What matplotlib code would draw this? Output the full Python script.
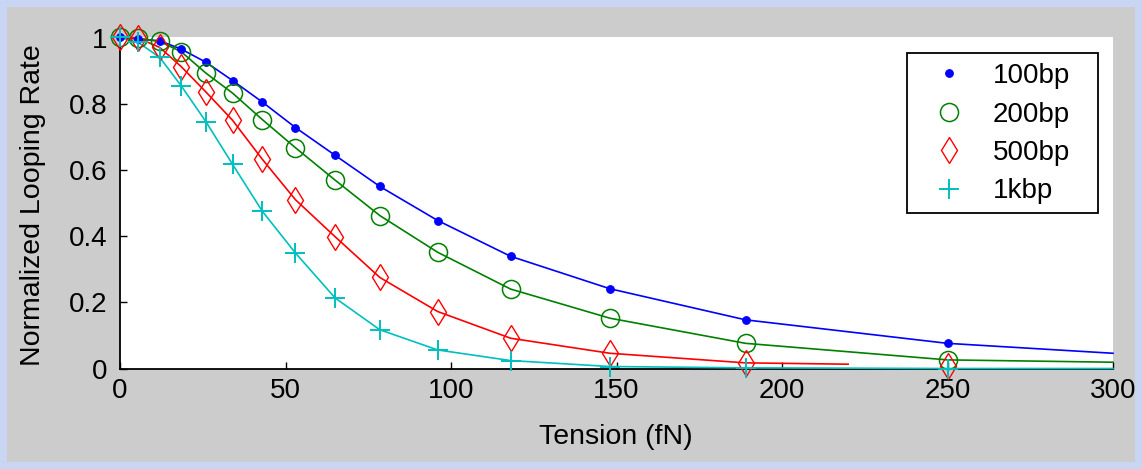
import matplotlib
matplotlib.use("Agg")
import matplotlib.pyplot as plt
from matplotlib.patches import Rectangle
from matplotlib.lines import Line2D

plt.rcParams['font.family'] = ['Liberation Sans', 'DejaVu Sans']

# ---- data ----
tension = [0, 5.5, 12, 18.5, 26, 34, 43, 53, 65, 78.5, 96, 118, 148, 189, 250]

rate_100bp = [1.0, 0.995, 0.99, 0.965, 0.925, 0.87, 0.805, 0.728, 0.644, 0.55,
              0.447, 0.339, 0.241, 0.147, 0.076]
rate_200bp = [1.0, 0.998, 0.988, 0.957, 0.892, 0.832, 0.752, 0.667, 0.569, 0.462,
              0.351, 0.24, 0.152, 0.076, 0.026]
rate_500bp = [1.0, 0.998, 0.97, 0.912, 0.835, 0.75, 0.632, 0.51, 0.398, 0.275,
              0.172, 0.0915, 0.046, 0.017, 0.008]
rate_1kbp = [1.0, 0.985, 0.94, 0.854, 0.745, 0.617, 0.475, 0.349, 0.213, 0.117,
             0.056, 0.024, 0.006, 0.002, 0.0]

# fitted curves: drawn through the points up to an end point
fit_end_x = {'100bp': 300, '200bp': 300, '500bp': 220, '1kbp': 300}
fit_end_y = {'100bp': 0.046, '200bp': 0.019, '500bp': 0.013, '1kbp': 0.0}

labels = ['100bp', '200bp', '500bp', '1kbp']
series = [rate_100bp, rate_200bp, rate_500bp, rate_1kbp]
colors = ['#0000ff', '#008000', '#ff0000', '#00bfbf']

xticks = [0, 50, 100, 150, 200, 250, 300]
yticks = [0, 0.2, 0.4, 0.6, 0.8, 1.0]
yticklabels = ['0', '0.2', '0.4', '0.6', '0.8', '1']

W, H = 1142, 469
fig = plt.figure(figsize=(W / 100, H / 100), dpi=100)
fig.patch.set_facecolor('#c8d6f3')
fig.add_artist(Rectangle((7 / W, 7 / H), (W - 14) / W, (H - 14) / H,
                         transform=fig.transFigure, facecolor='#cccccc',
                         edgecolor='none', zorder=0))

ax = fig.add_axes([120 / W, (H - 368.5) / H, (1113 - 120) / W, (368.5 - 37.5) / H])
ax.set_facecolor('white')

marker_styles = [
    dict(marker='o', markersize=5.5, markerfacecolor=colors[0], markeredgecolor=colors[0], markeredgewidth=0.8),
    dict(marker='o', markersize=13, markerfacecolor='none', markeredgecolor=colors[1], markeredgewidth=1.1),
    dict(marker='d', markersize=13, markerfacecolor='none', markeredgecolor=colors[2], markeredgewidth=1.0),
    dict(marker='+', markersize=14.5, markeredgecolor=colors[3], markeredgewidth=1.4),
]

handles = []
for lab, ys, c, ms in zip(labels, series, colors, marker_styles):
    xe = fit_end_x[lab]
    lx = [x for x in tension if x < xe] + [xe]
    ly = [y for x, y in zip(tension, ys) if x < xe] + [fit_end_y[lab]]
    ax.plot(lx, ly, color=c, linewidth=1.2, zorder=3, clip_on=False)
    ax.plot(tension, ys, linestyle='none', zorder=4, clip_on=False, **ms)
    handles.append(Line2D([], [], linestyle='none', **ms))

ax.set_xlim(0, 300)
ax.set_ylim(0, 1)
ax.set_xticks(xticks)
ax.set_xticklabels([str(t) for t in xticks])
ax.set_yticks(yticks)
ax.set_yticklabels(yticklabels)

for s in ['top', 'right']:
    ax.spines[s].set_visible(False)
for s in ['left', 'bottom']:
    ax.spines[s].set_linewidth(1.3)
    ax.spines[s].set_color('black')

ax.tick_params(direction='in', length=5, width=1.0, colors='black',
               labelsize=20)
ax.tick_params(axis='x', pad=7)
ax.tick_params(axis='y', pad=9)

fig.text(616 / W, 1 - 437 / H, 'Tension (fN)', ha='center', va='center', fontsize=20.5)
fig.text(33 / W, 1 - 205 / H, 'Normalized Looping Rate', ha='center', va='center',
         rotation=90, fontsize=20.5)

# legend box (MATLAB style) drawn as a plain rectangle, entries via legend
box = Rectangle((907 / W, 1 - 213 / H), (1098 - 907) / W, (213 - 53) / H,
                transform=fig.transFigure, facecolor='white',
                edgecolor='black', linewidth=1.3, zorder=5, clip_on=False)
ax.add_artist(box)
leg = ax.legend(handles, labels, loc='upper left',
                bbox_to_anchor=(928 / W, 1 - 63 / H), bbox_transform=fig.transFigure,
                fontsize=20, frameon=False, borderpad=0.0,
                handlelength=1.5, handletextpad=0.84, labelspacing=0.45,
                borderaxespad=0.0)
leg.set_zorder(6)

fig.savefig('out.png', dpi=100, facecolor=fig.get_facecolor())
